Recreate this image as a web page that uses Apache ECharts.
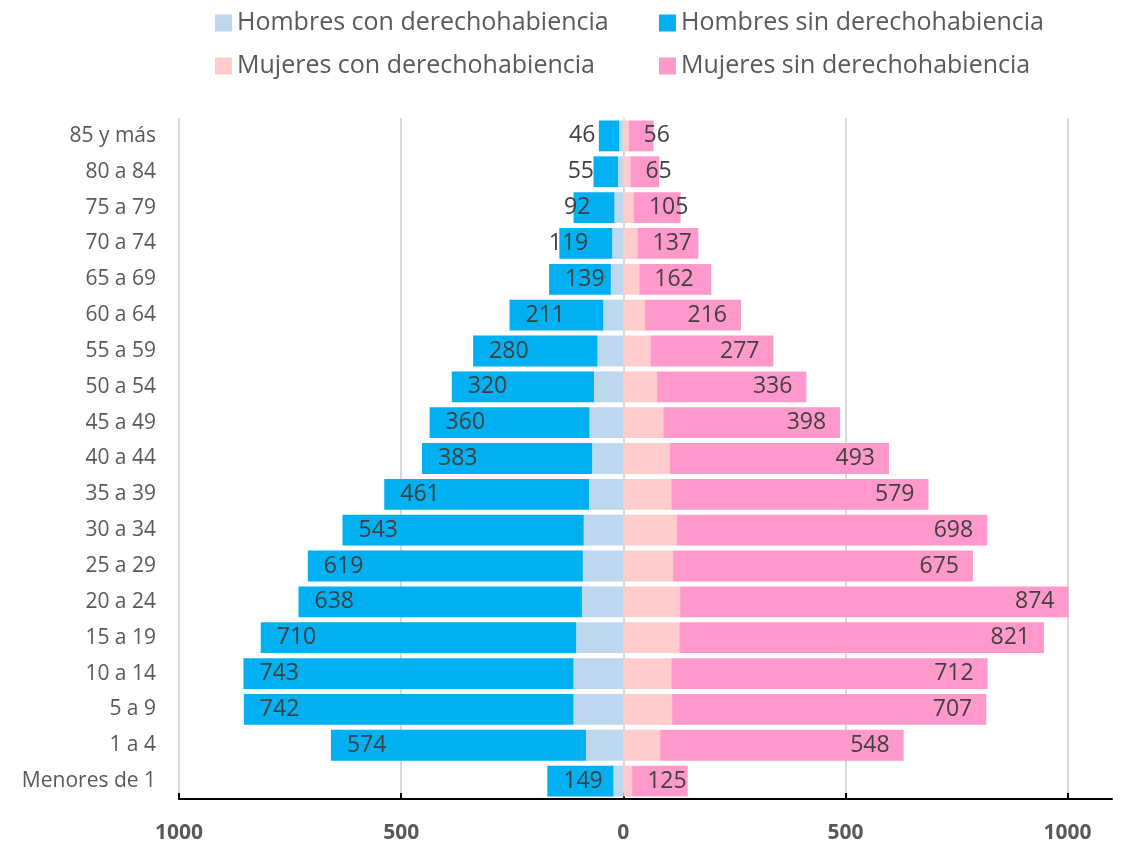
<!DOCTYPE html>
<html>
<head>
<meta charset="utf-8">
<title>Pirámide de población</title>
<script src="https://cdn.jsdelivr.net/npm/echarts@6/dist/echarts.min.js"></script>
<style>
    html, body { margin: 0; padding: 0; background: #fff; }
    #main { width: 1122px; height: 844px; }
</style>
</head>
<body>
<div id="main"></div>
<script>
    // grupos de edad, de abajo hacia arriba
    var categorias = ['Menores de 1', '1 a 4', '5 a 9', '10 a 14', '15 a 19', '20 a 24', '25 a 29',
        '30 a 34', '35 a 39', '40 a 44', '45 a 49', '50 a 54', '55 a 59', '60 a 64',
        '65 a 69', '70 a 74', '75 a 79', '80 a 84', '85 y más'];

    var hombresCon = [22, 84, 112, 112, 106, 93, 91, 89, 77, 70, 76, 66, 58, 45, 28, 25, 20, 12, 9];
    var hombresSin = [149, 574, 742, 743, 710, 638, 619, 543, 461, 383, 360, 320, 280, 211, 139, 119, 92, 55, 46];
    var mujeresCon = [20, 83, 110, 108, 126, 128, 112, 121, 108, 105, 90, 76, 61, 49, 36, 32, 24, 16, 12];
    var mujeresSin = [125, 548, 707, 712, 821, 874, 675, 698, 579, 493, 398, 336, 277, 216, 162, 137, 105, 65, 56];

    var ejeX = { min: -1000, max: 1100, interval: 500 };

    var fuente = 'Open Sans';
    var chart = echarts.init(document.getElementById('main'));

    // hombres van a la izquierda (negativos)
    var datosHombresSin = hombresSin.map(function (v) {
        return {
            value: -v,
            label: v >= 130 ? { position: 'insideLeft', distance: 16 } : { position: 'insideRight', distance: 24 }
        };
    });
    var datosMujeresSin = mujeresSin.map(function (v) {
        return {
            value: v,
            label: v >= 170 ? { position: 'insideRight', distance: 14 } : { position: 'insideLeft', distance: 15 }
        };
    });

    var etiqueta = {
        show: true,
        color: '#404040',
        fontFamily: fuente,
        fontSize: 23,
        formatter: function (p) { return Math.abs(p.value); }
    };

    var leyendaBase = {
        left: 210,
        itemWidth: 17,
        itemHeight: 17,
        itemGap: 10,
        icon: 'rect',
        selectedMode: false,
        textStyle: { color: '#595959', fontFamily: fuente, fontSize: 25, width: 412, lineHeight: 30 }
    };

    var option = {
        animation: false,
        textStyle: { fontFamily: fuente },
        legend: [
            Object.assign({}, leyendaBase, { top: 3, data: ['Hombres con derechohabiencia', 'Hombres sin derechohabiencia'] }),
            Object.assign({}, leyendaBase, { top: 46, data: ['Mujeres con derechohabiencia', 'Mujeres sin derechohabiencia'] })
        ],
        grid: { left: 179, right: 10, top: 118, bottom: 39, containLabel: false },
        xAxis: {
            type: 'value',
            min: ejeX.min,
            max: ejeX.max,
            interval: ejeX.interval,
            axisLine: { show: true, lineStyle: { color: '#000', width: 2 } },
            axisTick: { show: true, inside: true, length: 6, lineStyle: { color: '#000', width: 2 } },
            axisLabel: {
                color: '#595959',
                fontFamily: fuente,
                fontSize: 21,
                fontWeight: 'bold',
                margin: 24,
                showMaxLabel: false,
                formatter: function (v) { return Math.abs(v); }
            },
            splitLine: { show: true, showMaxLine: false, lineStyle: { color: '#d9d9d9', width: 2 } }
        },
        yAxis: {
            type: 'category',
            data: categorias,
            axisLine: { show: false },
            axisTick: { show: false },
            axisLabel: { color: '#595959', fontFamily: fuente, fontSize: 21, margin: 23 }
        },
        series: [
            {
                name: 'Hombres con derechohabiencia',
                type: 'bar',
                stack: 'pob',
                barCategoryGap: '14%',
                itemStyle: { color: '#bdd7ee' },
                data: hombresCon.map(function (v) { return -v; })
            },
            {
                name: 'Hombres sin derechohabiencia',
                type: 'bar',
                stack: 'pob',
                itemStyle: { color: '#00b0f0' },
                label: etiqueta,
                data: datosHombresSin
            },
            {
                name: 'Mujeres con derechohabiencia',
                type: 'bar',
                stack: 'pob',
                itemStyle: { color: '#ffcccc' },
                data: mujeresCon
            },
            {
                name: 'Mujeres sin derechohabiencia',
                type: 'bar',
                stack: 'pob',
                itemStyle: { color: '#ff99cc' },
                label: etiqueta,
                data: datosMujeresSin
            }
        ]
    };

    chart.setOption(option);
</script>
</body>
</html>
